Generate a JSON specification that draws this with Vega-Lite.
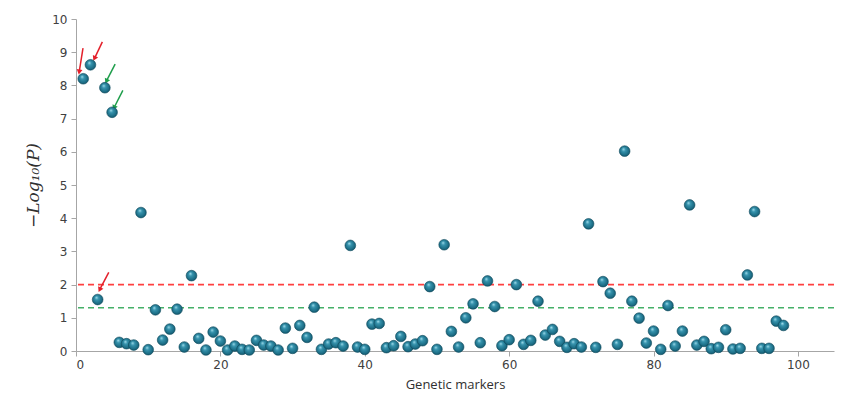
{
  "$schema": "https://vega.github.io/schema/vega-lite/v6.json",
  "autosize": {"type": "none"},
  "width": 758,
  "height": 332,
  "padding": {"left": 76, "top": 19, "right": 10, "bottom": 65},
  "background": "white",
  "config": {"view": {"stroke": null}},
  "datasets": {
    "points": [
      {"marker": 1, "logp": 8.2}, {"marker": 2, "logp": 8.62}, {"marker": 3, "logp": 1.55}, {"marker": 4, "logp": 7.93},
      {"marker": 5, "logp": 7.19}, {"marker": 6, "logp": 0.26}, {"marker": 7, "logp": 0.22}, {"marker": 8, "logp": 0.18},
      {"marker": 9, "logp": 4.17}, {"marker": 10, "logp": 0.04}, {"marker": 11, "logp": 1.24}, {"marker": 12, "logp": 0.33},
      {"marker": 13, "logp": 0.66}, {"marker": 14, "logp": 1.26}, {"marker": 15, "logp": 0.12}, {"marker": 16, "logp": 2.27},
      {"marker": 17, "logp": 0.38}, {"marker": 18, "logp": 0.03}, {"marker": 19, "logp": 0.57}, {"marker": 20, "logp": 0.3},
      {"marker": 21, "logp": 0.03}, {"marker": 22, "logp": 0.15}, {"marker": 23, "logp": 0.05}, {"marker": 24, "logp": 0.03},
      {"marker": 25, "logp": 0.32}, {"marker": 26, "logp": 0.18}, {"marker": 27, "logp": 0.15}, {"marker": 28, "logp": 0.03},
      {"marker": 29, "logp": 0.69}, {"marker": 30, "logp": 0.08}, {"marker": 31, "logp": 0.77}, {"marker": 32, "logp": 0.41},
      {"marker": 33, "logp": 1.32}, {"marker": 34, "logp": 0.05}, {"marker": 35, "logp": 0.21}, {"marker": 36, "logp": 0.25},
      {"marker": 37, "logp": 0.15}, {"marker": 38, "logp": 3.18}, {"marker": 39, "logp": 0.12}, {"marker": 40, "logp": 0.05},
      {"marker": 41, "logp": 0.81}, {"marker": 42, "logp": 0.83}, {"marker": 43, "logp": 0.1}, {"marker": 44, "logp": 0.16},
      {"marker": 45, "logp": 0.44}, {"marker": 46, "logp": 0.13}, {"marker": 47, "logp": 0.21}, {"marker": 48, "logp": 0.31},
      {"marker": 49, "logp": 1.94}, {"marker": 50, "logp": 0.05}, {"marker": 51, "logp": 3.2}, {"marker": 52, "logp": 0.59},
      {"marker": 53, "logp": 0.12}, {"marker": 54, "logp": 1.0}, {"marker": 55, "logp": 1.42}, {"marker": 56, "logp": 0.25},
      {"marker": 57, "logp": 2.11}, {"marker": 58, "logp": 1.34}, {"marker": 59, "logp": 0.16}, {"marker": 60, "logp": 0.34},
      {"marker": 61, "logp": 2.0}, {"marker": 62, "logp": 0.2}, {"marker": 63, "logp": 0.32}, {"marker": 64, "logp": 1.5},
      {"marker": 65, "logp": 0.48}, {"marker": 66, "logp": 0.65}, {"marker": 67, "logp": 0.29}, {"marker": 68, "logp": 0.11},
      {"marker": 69, "logp": 0.22}, {"marker": 70, "logp": 0.12}, {"marker": 71, "logp": 3.83}, {"marker": 72, "logp": 0.11},
      {"marker": 73, "logp": 2.09}, {"marker": 74, "logp": 1.74}, {"marker": 75, "logp": 0.2}, {"marker": 76, "logp": 6.02},
      {"marker": 77, "logp": 1.5}, {"marker": 78, "logp": 0.99}, {"marker": 79, "logp": 0.24}, {"marker": 80, "logp": 0.6},
      {"marker": 81, "logp": 0.05}, {"marker": 82, "logp": 1.37}, {"marker": 83, "logp": 0.15}, {"marker": 84, "logp": 0.6},
      {"marker": 85, "logp": 4.4}, {"marker": 86, "logp": 0.18}, {"marker": 87, "logp": 0.29}, {"marker": 88, "logp": 0.07},
      {"marker": 89, "logp": 0.11}, {"marker": 90, "logp": 0.64}, {"marker": 91, "logp": 0.06}, {"marker": 92, "logp": 0.08},
      {"marker": 93, "logp": 2.29}, {"marker": 94, "logp": 4.2}, {"marker": 95, "logp": 0.08}, {"marker": 96, "logp": 0.08},
      {"marker": 97, "logp": 0.9}, {"marker": 98, "logp": 0.77}
    ],
    "arrows": [
      {"id": "a1", "kind": "red", "x": 0.97, "y": 9.12, "x2": 0.46, "y2": 8.43},
      {"id": "a2", "kind": "red", "x": 3.65, "y": 9.31, "x2": 2.6, "y2": 8.83},
      {"id": "a3", "kind": "red", "x": 4.54, "y": 2.37, "x2": 3.33, "y2": 1.87},
      {"id": "a4", "kind": "green", "x": 5.42, "y": 8.64, "x2": 4.26, "y2": 8.15},
      {"id": "a5", "kind": "green", "x": 6.49, "y": 7.85, "x2": 5.32, "y2": 7.35}
    ],
    "thresholds": [
      {"level": "p01", "value": 2},
      {"level": "p05", "value": 1.301}
    ]
  },
  "encoding": {
    "x": {
      "type": "quantitative",
      "scale": {"domain": [0, 105], "nice": false, "zero": false},
      "axis": {
        "values": [0, 20, 40, 60, 80, 100],
        "title": "Genetic markers",
        "grid": false,
        "domainColor": "#a6a6a6",
        "tickColor": "#a6a6a6",
        "tickSize": 5,
        "labelPadding": 3,
        "labelFont": "DejaVu Sans",
        "labelFontSize": 12,
        "labelColor": "#404040",
        "titleFont": "Open Sans",
        "titleFontSize": 13,
        "titleFontWeight": "normal",
        "titleColor": "#303030",
        "titlePadding": 8
      }
    },
    "y": {
      "type": "quantitative",
      "scale": {"domain": [0, 10], "nice": false},
      "axis": {
        "values": [0, 1, 2, 3, 4, 5, 6, 7, 8, 9, 10],
        "labelOverlap": false,
        "title": "−Log₁₀(P)",
        "grid": false,
        "domainColor": "#a6a6a6",
        "tickColor": "#a6a6a6",
        "tickSize": 5,
        "labelPadding": 4,
        "labelFont": "DejaVu Sans",
        "labelFontSize": 12,
        "labelColor": "#404040",
        "titleFont": "DejaVu Serif",
        "titleFontStyle": "italic",
        "titleFontSize": 17,
        "titleFontWeight": "normal",
        "titleColor": "#303030",
        "titlePadding": 9
      }
    }
  },
  "layer": [
    {
      "data": {"name": "thresholds"},
      "mark": {"type": "rule", "strokeWidth": 1.6, "strokeDash": [6, 4]},
      "encoding": {
        "y": {"field": "value"},
        "color": {"field": "level", "type": "nominal", "scale": {"domain": ["p01", "p05", "red", "green"], "range": ["#ff4040", "#45b068", "#e3202b", "#1f9e4c"]}, "legend": null}
      }
    },
    {
      "data": {"name": "arrows"},
      "mark": {"type": "rule", "strokeWidth": 1.5},
      "encoding": {
        "x": {"field": "x"},
        "y": {"field": "y"},
        "x2": {"field": "x2"},
        "y2": {"field": "y2"},
        "color": {"field": "kind", "type": "nominal", "legend": null}
      }
    },
    {
      "data": {"name": "arrows"},
      "transform": [{"filter": "datum.id == 'a1'"}],
      "mark": {"type": "point", "shape": "triangle", "filled": true, "size": 34, "angle": 189, "opacity": 1},
      "encoding": {
        "x": {"field": "x2"},
        "y": {"field": "y2"},
        "color": {"field": "kind", "type": "nominal", "legend": null}
      }
    },
    {
      "data": {"name": "arrows"},
      "transform": [{"filter": "datum.id != 'a1'"}],
      "mark": {"type": "point", "shape": "triangle", "filled": true, "size": 34, "angle": 206, "opacity": 1},
      "encoding": {
        "x": {"field": "x2"},
        "y": {"field": "y2"},
        "color": {"field": "kind", "type": "nominal", "legend": null}
      }
    },
    {
      "data": {"name": "points"},
      "mark": {
        "type": "point",
        "shape": "circle",
        "filled": true,
        "size": 115,
        "opacity": 1,
        "fill": {
          "gradient": "radial",
          "x1": 0.38, "y1": 0.3, "r1": 0,
          "x2": 0.5, "y2": 0.5, "r2": 0.6,
          "stops": [
            {"offset": 0, "color": "#a9e2f0"},
            {"offset": 0.3, "color": "#3693ad"},
            {"offset": 0.75, "color": "#1a6a82"},
            {"offset": 1, "color": "#0b4153"}
          ]
        },
        "stroke": "#0d4a5c",
        "strokeWidth": 0.6
      },
      "encoding": {
        "x": {"field": "marker"},
        "y": {"field": "logp"}
      }
    }
  ]
}
